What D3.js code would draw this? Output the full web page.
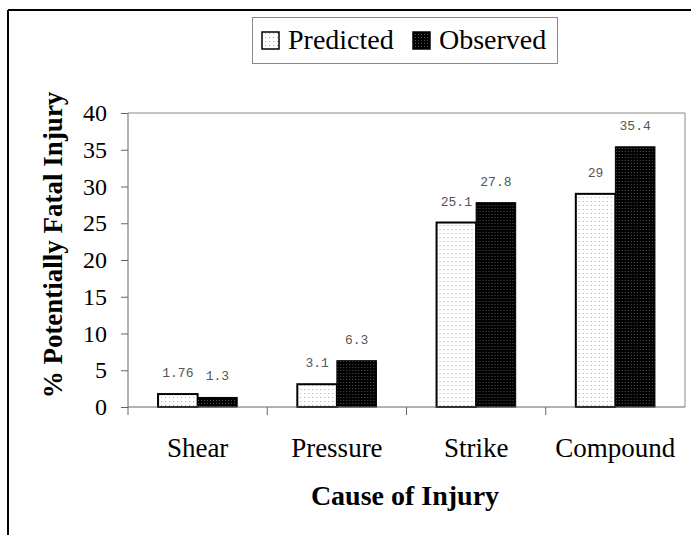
<!DOCTYPE html>
<html><head><meta charset="utf-8">
<script src="https://cdn.jsdelivr.net/npm/d3@7"></script>
<style>body{margin:0;background:#fff}</style>
</head><body>
<script>
const categories = ["Shear", "Pressure", "Strike", "Compound"];
const seriesNames = ["Predicted", "Observed"];
const predicted = [1.76, 3.1, 25.1, 29];
const observed = [1.3, 6.3, 27.8, 35.4];
const predictedLabels = ["1.76", "3.1", "25.1", "29"];
const observedLabels = ["1.3", "6.3", "27.8", "35.4"];
const yTicks = [0, 5, 10, 15, 20, 25, 30, 35, 40];

const W = 691, H = 535;
const serif = "Liberation Serif, Times New Roman, serif";
const svg = d3.select("body").append("svg").attr("width", W).attr("height", H);
const defs = svg.append("defs");
const p1 = defs.append("pattern").attr("id", "pPred").attr("patternUnits", "userSpaceOnUse").attr("width", 4).attr("height", 4);
p1.append("rect").attr("width", 4).attr("height", 4).attr("fill", "#fff");
p1.append("rect").attr("x", 1).attr("y", 1).attr("width", 1).attr("height", 1).attr("fill", "#aaa");
const p2 = defs.append("pattern").attr("id", "pObs").attr("patternUnits", "userSpaceOnUse").attr("width", 3).attr("height", 3);
p2.append("rect").attr("width", 3).attr("height", 3).attr("fill", "#000");
p2.append("rect").attr("x", 1).attr("y", 1).attr("width", 1).attr("height", 1).attr("fill", "#555");

// outer frame (only left and top visible)
svg.append("line").attr("x1", 8).attr("x2", 8).attr("y1", 10).attr("y2", H).attr("stroke", "#000").attr("stroke-width", 2);
svg.append("line").attr("x1", 8).attr("x2", W).attr("y1", 10).attr("y2", 10).attr("stroke", "#000").attr("stroke-width", 2);

const L = 128, R = 685, T = 113, B = 407;
const x = d3.scaleBand().domain(categories).range([L, R]);
const y = d3.scaleLinear().domain([0, 40]).range([B, T]);
const inner = d3.scaleBand().domain(seriesNames).range([0, x.bandwidth()]).paddingOuter(0.76).paddingInner(0);

// plot area border (top, right)
svg.append("path").attr("d", `M${L},${T}H${R}V${B}`).attr("fill", "none").attr("stroke", "#888").attr("stroke-width", 1);

const data = categories.map((c, i) => ({c, vals: [
  {s: "Predicted", v: predicted[i], l: predictedLabels[i]},
  {s: "Observed", v: observed[i], l: observedLabels[i]}]}));

const g = svg.selectAll("g.cat").data(data).join("g").attr("transform", d => `translate(${x(d.c)},0)`);
g.selectAll("rect").data(d => d.vals).join("rect")
  .attr("x", d => inner(d.s)).attr("width", inner.bandwidth())
  .attr("y", d => y(d.v)).attr("height", d => B - y(d.v))
  .attr("fill", d => d.s === "Predicted" ? "url(#pPred)" : "url(#pObs)")
  .attr("stroke", "#000").attr("stroke-width", d => d.s === "Predicted" ? 2 : 1);
g.selectAll("text").data(d => d.vals).join("text")
  .attr("x", d => inner(d.s) + inner.bandwidth() / 2).attr("y", d => y(d.v) - 17)
  .attr("text-anchor", "middle").attr("font-family", "Liberation Mono, monospace")
  .attr("font-size", 13).attr("fill", "#555").text(d => d.l);

// y axis
const ya = svg.append("g").attr("transform", `translate(${L},0)`)
  .call(d3.axisLeft(y).tickValues(yTicks).tickSize(7).tickPadding(14));
ya.select(".domain").attr("stroke", "#666").attr("d", `M0,${B + 8}V${T}`);
ya.selectAll(".tick line").attr("stroke", "#666");
ya.selectAll("text").attr("font-family", serif).attr("font-size", 24).attr("fill", "#000");

// x axis
const xa = svg.append("g").attr("transform", `translate(0,${B})`);
xa.append("line").attr("x1", L).attr("x2", R).attr("stroke", "#666");
const bounds = categories.map(c => x(c)).concat([R]);
xa.selectAll("line.t").data(bounds.slice(1, 4)).join("line").attr("class", "t")
  .attr("x1", d => d).attr("x2", d => d).attr("y1", 0).attr("y2", 8).attr("stroke", "#666");
xa.selectAll("text").data(categories).join("text")
  .attr("x", d => x(d) + x.bandwidth() / 2).attr("y", 50)
  .attr("text-anchor", "middle").attr("font-family", serif)
  .attr("font-size", 27).text(d => d);

// axis titles
svg.append("text").attr("x", 405).attr("y", 505).attr("text-anchor", "middle")
  .attr("font-family", serif).attr("font-weight", "bold").attr("font-size", 28)
  .text("Cause of Injury");
svg.append("text").attr("transform", "translate(62,245) rotate(-90)").attr("text-anchor", "middle")
  .attr("font-family", serif).attr("font-weight", "bold").attr("font-size", 27)
  .text("% Potentially Fatal Injury");

// legend
const lg = svg.append("g");
lg.append("rect").attr("x", 252.5).attr("y", 17.5).attr("width", 305).attr("height", 46).attr("fill", "#fff").attr("stroke", "#888");
const items = [{s: "Predicted", sx: 262, tx: 288}, {s: "Observed", sx: 413, tx: 439}];
items.forEach(it => {
  lg.append("rect").attr("x", it.sx).attr("y", 32).attr("width", 17).attr("height", 17)
    .attr("fill", it.s === "Predicted" ? "url(#pPred)" : "url(#pObs)").attr("stroke", "#000").attr("stroke-width", 1.5);
  lg.append("text").attr("x", it.tx).attr("y", 49).attr("font-family", serif)
    .attr("font-size", 28).text(it.s);
});
</script>
</body></html>
